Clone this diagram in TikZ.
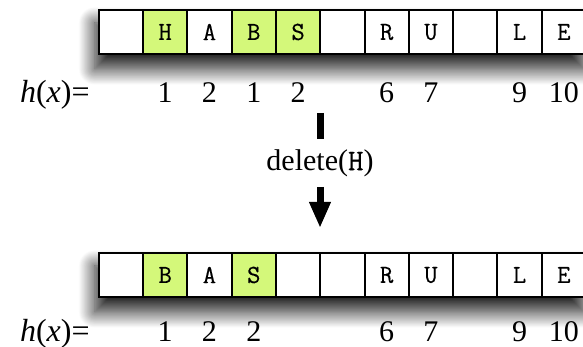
\documentclass[tikz,border=0pt]{standalone}
\usepackage{fontspec}
\setmainfont{Liberation Serif}
\newfontfamily\slotfont{Latin Modern Mono}[FakeBold=0.4]
\usetikzlibrary{positioning,arrows.meta,shadows.blur,backgrounds}
\definecolor{hitgreen}{RGB}{212,248,122}
\tikzset{
  slot/.style={draw, line width=1pt, fill=white, minimum width=22.15pt, minimum height=22pt, inner sep=0pt, font=\slotfont\fontsize{13}{14}\selectfont},
  usedslot/.style={slot, fill=hitgreen},
  hashval/.style={font=\fontsize{15}{16}\selectfont, inner sep=0pt, anchor=base},
  rowshadow/.style={fill=white, blur shadow={shadow xshift=-1.5pt, shadow yshift=-7pt, shadow blur radius=8pt, shadow blur steps=25, shadow opacity=90}},
  opbar/.style={line width=3.5pt},
  oparrow/.style={line width=3.5pt, -{Triangle[length=13pt, width=10pt]}}
}

\begin{document}
\begin{tikzpicture}[x=0.5pt, y=0.5pt]
  \useasboundingbox (0,0) rectangle (583,347);

  % table before the delete
  \foreach \i/\ch/\st in {0//slot, 1/H/usedslot, 2/A/slot, 3/B/usedslot, 4/S/usedslot, 5//slot,
                          6/R/slot, 7/U/slot, 8//slot, 9/L/slot, 10/E/slot}
    \node[\st] (t\i) at ({120.85+44.3*\i},315) {\ch};
  \begin{scope}[on background layer]
    \path[rowshadow] (t0.north west) rectangle (t10.south east);
  \end{scope}
  \node[hashval, font=\fontsize{16}{17}\selectfont, anchor=base east] (tlabel) at (90,244) {\textit{h}(\textit{x})=};
  \foreach \i/\v in {1/1, 2/2, 3/1, 4/2, 6/6, 7/7, 9/9, 10/10}
    \node[hashval] (th\i) at (t\i.center |- 0,244) {\v};

  % the operation
  \coordinate (barstart) at (320,234);
  \coordinate (arrowend) at (320,119);
  \node[font=\fontsize{15}{16}\selectfont, inner xsep=0pt, inner ysep=5pt] (op) at (320,184) {delete({\slotfont H})};
  \draw[opbar] (barstart) -- (op.north);
  \draw[oparrow] (op.south) -- (arrowend);

  % table after the delete
  \foreach \i/\ch/\st in {0//slot, 1/B/usedslot, 2/A/slot, 3/S/usedslot, 4//slot, 5//slot,
                          6/R/slot, 7/U/slot, 8//slot, 9/L/slot, 10/E/slot}
    \node[\st] (b\i) at ({120.85+44.3*\i},72) {\ch};
  \begin{scope}[on background layer]
    \path[rowshadow] (b0.north west) rectangle (b10.south east);
  \end{scope}
  \node[hashval, font=\fontsize{16}{17}\selectfont, anchor=base east] (blabel) at (90,5) {\textit{h}(\textit{x})=};
  \foreach \i/\v in {1/1, 2/2, 3/2, 6/6, 7/7, 9/9, 10/10}
    \node[hashval] (bh\i) at (b\i.center |- 0,5) {\v};
\end{tikzpicture}
\end{document}
